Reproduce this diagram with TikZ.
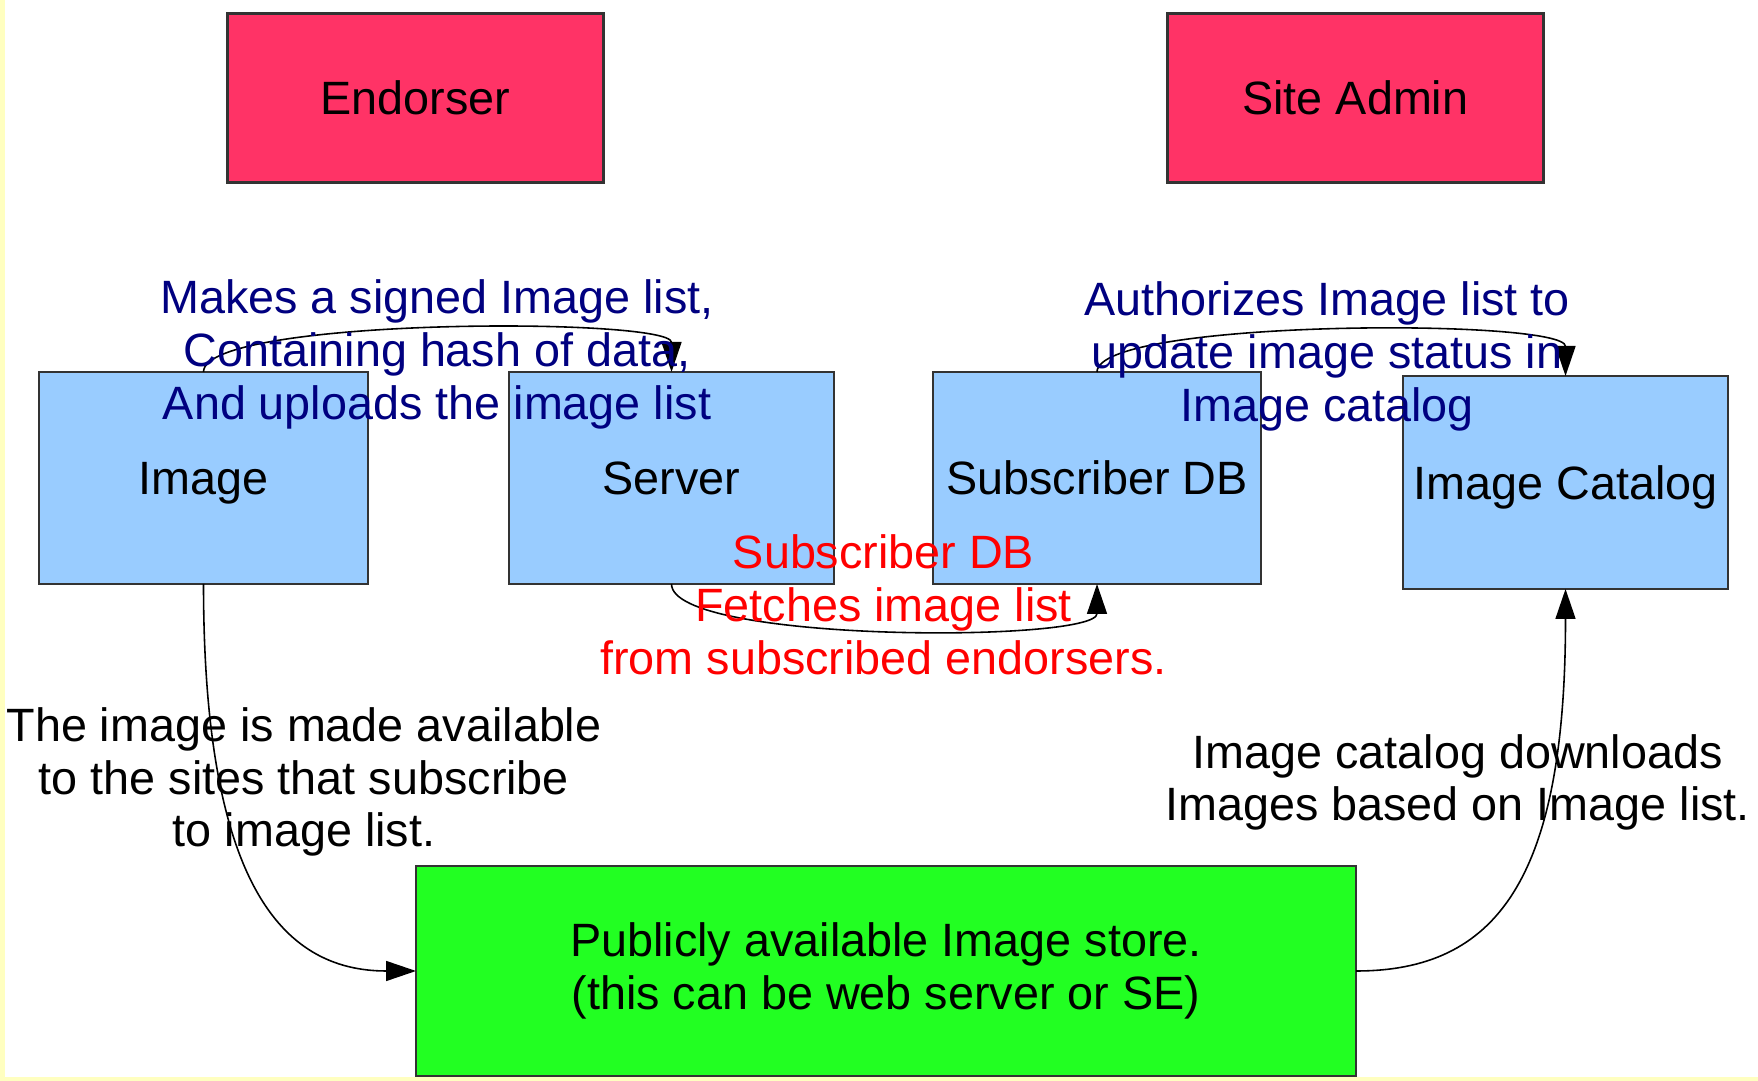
\documentclass[tikz,border=0pt]{standalone}
\usepackage{fontspec}
\setmainfont{Liberation Sans}
\usetikzlibrary{arrows.meta, positioning}
\definecolor{actorred}{HTML}{FF3366}
\definecolor{partblue}{HTML}{99CCFF}
\definecolor{storegreen}{HTML}{22FF22}
\definecolor{notenavy}{HTML}{000080}
\definecolor{edgeyellow}{HTML}{FFFFC0}

\begin{document}
\begin{tikzpicture}[
    every node/.style={font=\fontsize{13.3}{15}\selectfont, inner sep=0pt, outer sep=0pt},
    actor/.style={draw=black!80, line width=0.7pt, fill=actorred, minimum width=3.76cm, minimum height=1.69cm, text height=12.3pt, text depth=2.8pt},
    part/.style={draw=black!80, line width=0.7pt, fill=partblue, minimum width=3.27cm, minimum height=2.12cm, text height=12.3pt, text depth=2.8pt},
    flow/.style={line width=0.45pt, -{Triangle[length=3mm,width=2mm]}},
    note/.style={align=center}
  ]
    \fill[white] (0,0) rectangle (17.58,-10.81);
    \fill[edgeyellow] (0,0) rectangle (0.05,-10.81);
    \fill[edgeyellow] (0,-10.77) rectangle (17.58,-10.81);
    \useasboundingbox (0,0) rectangle (17.58,-10.81);

    \node[actor] (endorser) at (4.154,-0.981) {Endorser};
    \node[actor, right=5.64cm of endorser] (siteadmin) {Site Admin};

    \node[part, minimum width=3.29cm] (image) at (2.035,-4.78) {Image};
    \node[part, right=1.41cm of image, minimum width=3.25cm] (server) {Server};
    \node[part, right=0.99cm of server, minimum width=3.28cm] (subdb) {Subscriber DB};
    \node[part, right=1.42cm of subdb, yshift=-0.045cm, minimum width=3.25cm, minimum height=2.13cm] (catalog) {Image Catalog};

    \node[draw=black!80, line width=0.7pt, fill=storegreen, minimum width=9.40cm, minimum height=2.10cm, align=center] (store) at (8.86,-9.71) {Publicly available Image store.\\(this can be web server or SE)};

    \draw[flow] (image.north) .. controls +(0,0.55) and +(0,0.55) .. (server.north);
    \draw[flow] (server.south) .. controls +(0,-0.59) and +(0,-0.59) .. (subdb.south);
    \draw[flow] (subdb.north) .. controls +(0,0.53) and +(0,0.58) .. (catalog.north);
    \draw[flow] (image.south) .. controls +(0,-2.96) and +(-1.36,0) .. (store.west);
    \draw[flow] (store.east) .. controls +(1.40,0) and +(0,-2.91) .. (catalog.south);

    \node[note, text=notenavy] (signtxt) at (4.37,-3.545) {Makes a signed Image list,\\Containing hash of data,\\And uploads the image list};
    \node[note, text=notenavy] (authtxt) at (13.27,-3.565) {Authorizes Image list to\\update image status in\\Image catalog};
    \node[note, text=red] (fetchtxt) at (8.835,-6.05) {Subscriber DB\\Fetches image list\\from subscribed endorsers.};
    \node[note] (availtxt) at (3.04,-7.82) {The image is made available\\to the sites that subscribe\\to image list.};
    \node[note] (downtxt) at (14.576,-7.825) {Image catalog downloads\\Images based on Image list.};
\end{tikzpicture}
\end{document}
